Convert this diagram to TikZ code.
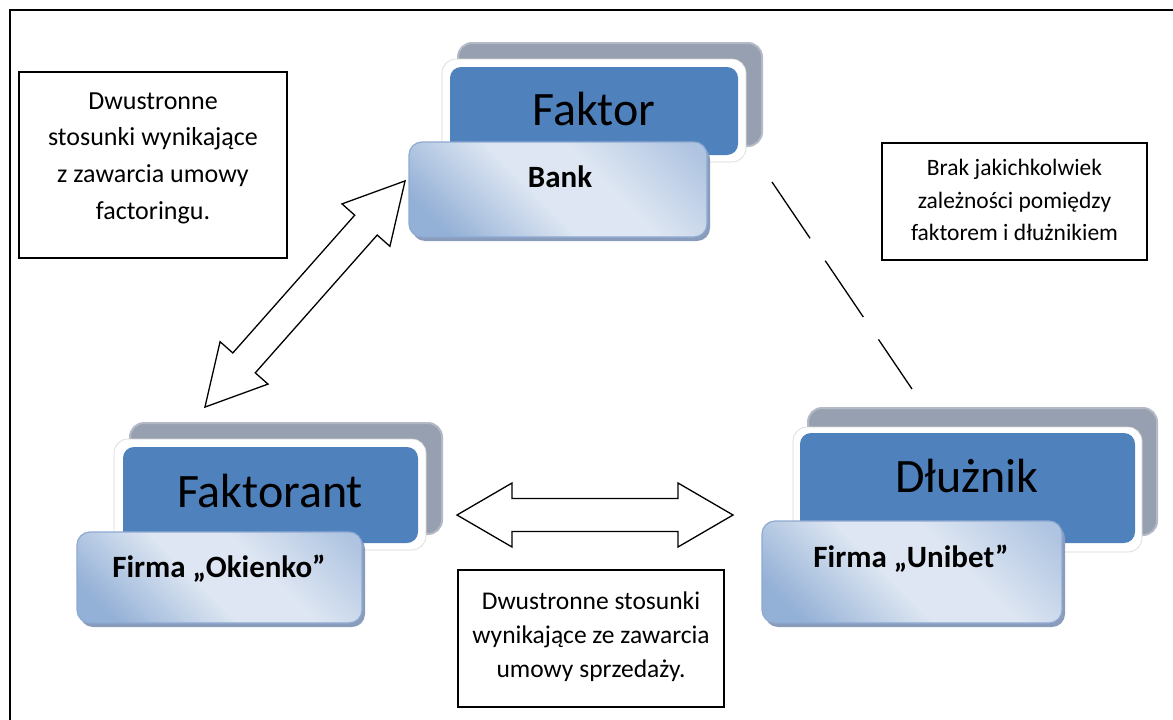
\documentclass[tikz,border=0pt]{standalone}
\usepackage{fontspec}
\setmainfont{Carlito}

\definecolor{accentblue}{HTML}{4F81BD}
\definecolor{shadowgray}{HTML}{96A0B0}
\definecolor{shadowgrayhi}{HTML}{B3BAC5}
\definecolor{framegray}{HTML}{D6D6D6}
\definecolor{lbdark}{HTML}{93B0D6}
\definecolor{lbmid}{HTML}{AFC4E1}
\definecolor{lblight}{HTML}{DDE6F2}
\definecolor{lightedge}{HTML}{8EA9D1}
\definecolor{shadowblue}{HTML}{8A9CBB}

\pgfdeclarehorizontalshading{lightbox}{100bp}{%
  color(0bp)=(lbdark); color(22bp)=(lbdark); color(45bp)=(lblight);
  color(60bp)=(lblight); color(82bp)=(lbmid); color(100bp)=(lbmid)}

\tikzset{
  frameline/.style={line width=2pt, line cap=rect},
  note/.style={draw=black, line width=1.3pt, rectangle, inner sep=0pt},
  notetext/.style={align=center, inner sep=0pt},
  grayback/.style={rectangle, rounded corners=14pt, fill=shadowgray,
    draw=shadowgrayhi, line width=2pt, inner sep=0pt},
  whiteframe/.style={rectangle, rounded corners=14pt, fill=white,
    draw=framegray, line width=0.6pt, inner sep=0pt},
  bluebox/.style={rectangle, rounded corners=11pt, fill=accentblue, inner sep=0pt},
  lightbox/.style={rectangle, rounded corners=13pt, shade, shading=lightbox,
    shading angle=45, draw=lightedge, line width=1.2pt, inner sep=0pt},
  lightshadow/.style={rectangle, rounded corners=13pt, fill=shadowblue, inner sep=0pt},
  bigtitle/.style={anchor=base, inner sep=0pt, font=\fontsize{48}{52}\selectfont},
  subtitle/.style={anchor=base, inner sep=0pt, font=\bfseries\fontsize{31}{34}\selectfont},
  blockarrow/.style={draw=black, fill=white, line width=1.3pt, line join=miter},
  dashedlink/.style={draw=black, line width=1.3pt, dash pattern=on 68pt off 27pt},
}

\begin{document}
\begin{tikzpicture}[x=1pt, y=-1pt]
\useasboundingbox (0,0) rectangle (1173,720);

% page frame
\draw[frameline] (10,720) -- (10,10) -- (1173,10);

% ---- Faktor / Bank ----
\node[grayback, minimum width=304, minimum height=103] (faktorBack) at (610,94.5) {};
\node[whiteframe, minimum width=304, minimum height=103] (faktorFrame) at (594,110.5) {};
\node[bluebox, minimum width=288, minimum height=88] (faktorBox) at (594,111) {};
\node[bigtitle] (faktorText) at (594,125) {Faktor};
\node[lightshadow, minimum width=298, minimum height=95] (bankShadow) at (561,193.5) {};
\node[lightbox, minimum width=298, minimum height=95] (bankBox) at (558,189.5) {};
\node[subtitle] (bankText) at (560,187) {Bank};

% ---- Faktorant / Firma Okienko ----
\node[grayback, minimum width=312, minimum height=111] (faktorantBack) at (286,478.5) {};
\node[whiteframe, minimum width=312, minimum height=111] (faktorantFrame) at (270,494.5) {};
\node[bluebox, minimum width=295, minimum height=96] (faktorantBox) at (270.5,495) {};
\node[bigtitle] (faktorantText) at (270,507) {Faktorant};
\node[lightshadow, minimum width=285, minimum height=91] (okienkoShadow) at (222.5,581.5) {};
\node[lightbox, minimum width=285, minimum height=91] (okienkoBox) at (219.5,577.5) {};
\node[subtitle] (okienkoText) at (219,577) {Firma „Okienko”};

% ---- Dłużnik / Firma Unibet ----
\node[grayback, minimum width=349, minimum height=127] (dluznikBack) at (982.5,471.5) {};
\node[whiteframe, minimum width=349, minimum height=125] (dluznikFrame) at (967.5,489.5) {};
\node[bluebox, minimum width=335, minimum height=110] (dluznikBox) at (967.5,488) {};
\node[bigtitle] (dluznikText) at (967,492) {Dłużnik};
\node[lightshadow, minimum width=300, minimum height=102] (unibetShadow) at (915,576) {};
\node[lightbox, minimum width=300, minimum height=102] (unibetBox) at (912,572) {};
\node[subtitle] (unibetText) at (911,567) {Firma „Unibet”};

% ---- explanatory notes ----
\node[note, minimum width=268, minimum height=186] (noteFactoring) at (153,165) {};
\node[notetext, font=\fontsize{26}{36.7}\selectfont] (noteFactoringText) at (153,158)
  {Dwustronne\\stosunki wynikające\\z zawarcia umowy\\factoringu.};

\node[note, minimum width=265, minimum height=117] (noteNone) at (1014.5,201.5) {};
\node[notetext, font=\fontsize{23.5}{32.5}\selectfont] (noteNoneText) at (1014.5,200)
  {Brak jakichkolwiek\\zależności pomiędzy\\faktorem i dłużnikiem};

\node[note, minimum width=266, minimum height=137] (noteSale) at (591,638.5) {};
\node[notetext, font=\fontsize{25.5}{34}\selectfont] (noteSaleText) at (591,637)
  {Dwustronne stosunki\\wynikające ze zawarcia\\umowy sprzedaży.};

% ---- two-way block arrows ----
\begin{scope}[shift={(305,294)}, rotate=48.5]
  \draw[blockarrow] (-151,0) -- (-92,32) -- (-92,15) -- (92,15) -- (92,32)
    -- (151,0) -- (92,-32) -- (92,-15) -- (-92,-15) -- (-92,-32) -- cycle;
\end{scope}
\begin{scope}[shift={(595,515)}]
  \draw[blockarrow] (-138,0) -- (-83,32) -- (-83,16.5) -- (83,16.5) -- (83,32)
    -- (138,0) -- (83,-32) -- (83,-16.5) -- (-83,-16.5) -- (-83,-32) -- cycle;
\end{scope}

% ---- no relation between factor and debtor ----
\coordinate (dashStart) at (772,182);
\coordinate (dashEnd) at (912,389);
\draw[dashedlink] (dashStart) -- (dashEnd);
\end{tikzpicture}
\end{document}
